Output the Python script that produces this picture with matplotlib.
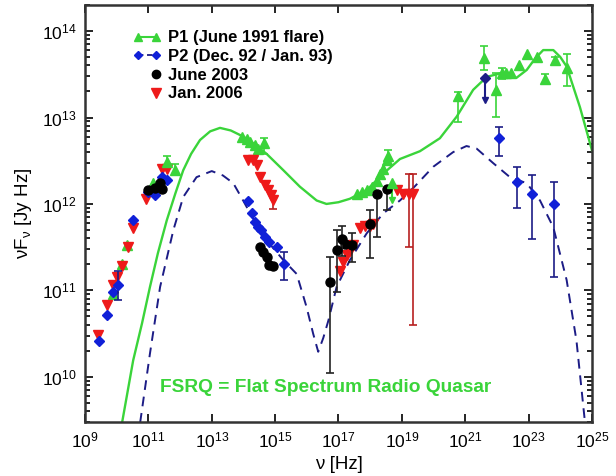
import numpy as np
import matplotlib
matplotlib.use("Agg")
import matplotlib.pyplot as plt
from matplotlib.lines import Line2D

plt.rcParams['font.family'] = ['Liberation Sans', 'DejaVu Sans']
plt.rcParams['mathtext.fontset'] = 'custom'
plt.rcParams['mathtext.rm'] = 'Liberation Sans'
plt.rcParams['mathtext.it'] = 'Liberation Sans:italic'
plt.rcParams['mathtext.bf'] = 'Liberation Sans:bold'

GREEN = '#3ad43a'
BLUE = '#1020d8'
NAVY = '#1c1c86'
RED = '#ee1a1a'
DARKRED = '#b82020'

# all values are log10(nu [Hz]) and log10(nu F_nu [Jy Hz])
# model curves
p1_model_x = [10.17, 10.52, 10.80, 11.05, 11.30, 11.58, 11.85, 12.10, 12.35, 12.63, 12.95,
              13.26, 13.60, 13.99, 14.35, 14.73, 15.26, 15.78, 16.31, 16.62, 17.00, 17.36,
              17.89, 18.41, 18.94, 19.57, 20.20, 20.73, 21.25, 21.68, 22.10, 22.62, 22.94,
              23.20, 23.46, 23.78, 24.00, 24.20, 24.62, 25.00]
p1_model_y = [9.47, 10.19, 10.62, 11.04, 11.43, 11.81, 12.12, 12.39, 12.58, 12.74, 12.84,
              12.88, 12.85, 12.78, 12.69, 12.58, 12.39, 12.20, 12.04, 12.00, 12.02, 12.06,
              12.16, 12.35, 12.52, 12.61, 12.76, 13.01, 13.32, 13.47, 13.51, 13.46, 13.55,
              13.68, 13.78, 13.78, 13.70, 13.59, 13.12, 12.62]
p2_model_x = [10.74, 11.05, 11.37, 11.79, 12.10, 12.52, 13.00, 13.35, 13.68, 13.99, 14.35,
              14.73, 15.26, 15.68, 15.99, 16.20, 16.36, 16.52, 16.68, 16.94, 17.36, 17.89,
              18.41, 18.94, 19.40, 19.99, 20.62, 21.04, 21.36, 21.89, 22.41, 22.94, 23.36,
              23.78, 24.20, 24.51, 24.78]
p2_model_y = [9.47, 10.27, 11.04, 11.70, 12.08, 12.31, 12.38, 12.33, 12.24, 12.04, 11.80,
              11.58, 11.35, 11.19, 10.81, 10.50, 10.29, 10.45, 10.65, 11.04, 11.35, 11.66,
              11.89, 12.04, 12.20, 12.43, 12.60, 12.67, 12.64, 12.47, 12.31, 12.24, 12.04,
              11.73, 11.12, 10.42, 9.47]

# P1 (June 1991 flare) data
p1_x = [9.89, 10.16, 10.33, 11.16, 14.10, 14.21, 14.36, 14.47, 13.94,
        17.57, 17.73, 17.89, 18.05, 18.21, 18.31, 18.41, 18.52,
        22.30, 22.46, 22.70, 22.96, 23.25]
p1_y = [10.96, 11.30, 11.53, 12.24, 12.75, 12.72, 12.68, 12.64, 12.78,
        12.12, 12.14, 12.16, 12.20, 12.27, 12.35, 12.41, 12.51,
        13.52, 13.52, 13.61, 13.73, 13.70]
p1_err_x = [11.58, 11.84, 14.66, 18.57, 20.78, 21.59, 21.97, 22.15, 23.52, 23.83, 24.20]
p1_err_y = [12.49, 12.39, 12.70, 12.56, 13.25, 13.69, 13.32, 13.51, 13.45, 13.66, 13.57]
p1_err_lo = [12.44, 12.33, 12.58, 12.50, 12.95, 13.55, 13.01, 13.44, 13.40, 13.62, 13.37]
p1_err_hi = [12.55, 12.46, 12.76, 12.62, 13.30, 13.83, 13.51, 13.57, 13.50, 13.70, 13.74]
p1_lim_x = [18.68]
p1_lim_y = [12.24]
p1_lim_to = [12.05]

# P2 (Dec. 92 / Jan. 93) data
p2_x = [9.45, 9.68, 9.89, 10.52, 11.00, 11.21, 11.42, 11.58,
        14.13, 14.26, 14.36, 14.47, 14.55, 14.68, 14.82, 15.05]
p2_y = [10.41, 10.71, 10.98, 11.82, 12.14, 12.10, 12.31, 12.28,
        12.03, 11.90, 11.79, 11.73, 11.70, 11.62, 11.56, 11.50]
p2_err_x = [10.05, 15.29, 22.08, 22.62, 23.10, 23.80]
p2_err_y = [11.06, 11.31, 12.76, 12.25, 12.12, 12.00]
p2_err_lo = [10.89, 11.12, 12.56, 11.95, 11.60, 11.16]
p2_err_hi = [11.23, 11.44, 12.89, 12.43, 12.34, 12.25]
p2_lim_x = [21.62]
p2_lim_y = [13.46]
p2_lim_to = [13.20]

# June 2003 data
j03_x = [11.00, 11.21, 11.37, 11.42, 14.52, 14.63, 14.73, 14.82, 14.92, 17.20]
j03_y = [12.16, 12.18, 12.24, 12.17, 11.50, 11.44, 11.39, 11.29, 11.28, 11.54]
j03_err_x = [16.73, 16.94, 17.10, 17.42, 17.99, 18.22, 18.52]
j03_err_y = [11.10, 11.47, 11.59, 11.52, 11.77, 12.12, 12.17]
j03_err_lo = [10.05, 10.98, 11.40, 11.33, 11.37, 11.62, 11.93]
j03_err_hi = [11.39, 11.70, 11.75, 11.66, 11.93, 12.12, 12.17]

# Jan. 2006 data
j06_x = [9.42, 9.68, 9.89, 10.00, 10.16, 10.35, 10.52, 10.94, 11.42, 11.58,
         14.15, 14.29, 14.42, 14.52, 14.68, 14.78, 14.87,
         17.05, 17.15, 17.26, 17.36, 17.47, 17.68, 17.84, 17.99, 18.10,
         18.84, 19.05]
j06_y = [10.48, 10.83, 11.06, 11.16, 11.28, 11.50, 11.72, 12.06, 12.41, 12.41,
         12.51, 12.51, 12.45, 12.31, 12.22, 12.16, 12.10,
         11.23, 11.33, 11.41, 11.46, 11.52, 11.72, 11.75, 11.75, 11.77,
         12.16, 12.12]
j06_err_x = [14.92, 19.21, 19.36]
j06_err_y = [12.04, 12.12, 12.12]
j06_err_lo = [11.94, 11.50, 10.60]
j06_err_hi = [12.08, 12.35, 12.35]


def lin(v):
    return 10.0 ** np.asarray(v)


def err_plot(ax, x, y, lo, hi, color, ecolor, marker, ms):
    y_lin = lin(y)
    yerr = [y_lin - lin(lo), lin(hi) - y_lin]
    ax.errorbar(lin(x), y_lin, yerr=yerr, fmt=marker, color=color, ecolor=ecolor,
                ms=ms, elinewidth=1.2, capsize=3, capthick=1.2, zorder=4)


def limit_plot(ax, x, y, to, color, marker, ms):
    for xi, yi, ti in zip(x, y, to):
        ax.plot([lin(xi), lin(xi)], [lin(yi), lin(ti)], color=color, lw=1.5, zorder=4)
        ax.plot(lin(xi), lin(ti), marker='v', color=color, ms=4, zorder=4)
    ax.plot(lin(x), lin(y), marker, color=color, ms=ms, zorder=5)


fig = plt.figure(figsize=(6.16, 4.76), dpi=100)
ax = fig.add_axes([0.138, 0.1134, 0.823, 0.876])

ax.plot(lin(p1_model_x), lin(p1_model_y), color=GREEN, lw=1.7, zorder=2)
ax.plot(lin(p2_model_x), lin(p2_model_y), color=NAVY, lw=1.4, ls=(0, (5, 3.5)), zorder=2)

ax.plot(lin(p1_x), lin(p1_y), '^', color=GREEN, ms=6.5, zorder=3)
err_plot(ax, p1_err_x, p1_err_y, p1_err_lo, p1_err_hi, GREEN, GREEN, '^', 6.5)
limit_plot(ax, p1_lim_x, p1_lim_y, p1_lim_to, GREEN, '^', 6.5)

ax.plot(lin(j06_x), lin(j06_y), 'v', color=RED, ms=7.5, zorder=3)
err_plot(ax, j06_err_x, j06_err_y, j06_err_lo, j06_err_hi, RED, DARKRED, 'v', 7.5)

ax.plot(lin(p2_x), lin(p2_y), 'D', color=BLUE, ms=5, zorder=3)
err_plot(ax, p2_err_x, p2_err_y, p2_err_lo, p2_err_hi, BLUE, NAVY, 'D', 5)
limit_plot(ax, p2_lim_x, p2_lim_y, p2_lim_to, NAVY, 'D', 5)

ax.plot(lin(j03_x), lin(j03_y), 'o', color='black', ms=6.5, zorder=3)
err_plot(ax, j03_err_x, j03_err_y, j03_err_lo, j03_err_hi, 'black', '#222222', 'o', 6.5)

ax.set_xscale('log')
ax.set_yscale('log')
ax.set_xlim(1e9, 1e25)
ax.set_ylim(3e9, 2e14)
ax.set_xticks([10.0 ** k for k in range(9, 26, 2)])
ax.xaxis.set_minor_locator(matplotlib.ticker.NullLocator())
ax.tick_params(which='both', direction='in', top=True, right=True, labelsize=12.5,
               width=1.2, pad=6)
ax.tick_params(which='major', length=6)
ax.tick_params(which='minor', length=3.5)
for sp in ax.spines.values():
    sp.set_linewidth(1.8)
    sp.set_color('#333333')

ax.set_xlabel('ν [Hz]', fontsize=13.5, labelpad=4)
ax.set_ylabel('νF$_\\mathregular{ν}$ [Jy Hz]', fontsize=13.5, labelpad=6)

ax.text(0.148, 0.082, 'FSRQ = Flat Spectrum Radio Quasar', transform=ax.transAxes,
        color=GREEN, fontsize=13.8, fontweight='bold', va='center', ha='left')

handles = [
    Line2D([], [], color=GREEN, lw=1.5, marker='^', ms=5.5),
    Line2D([], [], color=NAVY, lw=1.3, ls=(0, (3, 2)), marker='D', ms=4,
           markerfacecolor=BLUE, markeredgecolor=BLUE),
    Line2D([], [], color='black', lw=0, marker='o', ms=6),
    Line2D([], [], color=RED, lw=0, marker='v', ms=6.5),
]
labels = ['P1 (June 1991 flare)', 'P2 (Dec. 92 / Jan. 93)', 'June 2003', 'Jan. 2006']
leg = ax.legend(handles, labels, loc='upper left', bbox_to_anchor=(0.065, 0.975),
                frameon=False, numpoints=2, handlelength=1.7, handletextpad=0.4,
                labelspacing=0.22, prop={'weight': 'bold', 'size': 12})
for h in leg.legend_handles[2:]:
    h.set_markevery([1])

fig.savefig('out.png', dpi=100)
